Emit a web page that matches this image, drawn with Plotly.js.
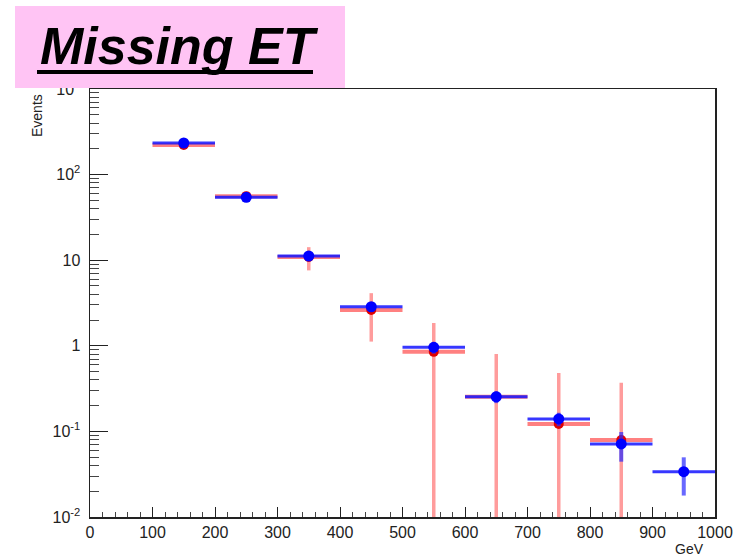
<!DOCTYPE html>
<html>
<head>
<meta charset="utf-8">
<script src="https://cdn.plot.ly/plotly-3.0.1.min.js"></script>
<style>html,body{margin:0;padding:0;background:#fff;}#chart{width:742px;height:559px;}</style>
</head>
<body>
<div id="chart"></div>
<script>
// bin centres (GeV) and half-width
var binCenters = [150, 250, 350, 450, 550, 650, 750, 850, 950];
var binHalfWidth = [50, 50, 50, 50, 50, 50, 50, 50, 50];

// red series
var redX = [150, 250, 350, 450, 550, 650, 750, 850];
var redY = [222, 56, 10.9, 2.62, 0.85, 0.254, 0.122, 0.0795];
var redErr = [5, 2, 3.3, 1.5, 1.0, 0.55, 0.36, 0.29];
var redHalf = [50, 50, 50, 50, 50, 50, 50, 50];

// blue series
var blueY = [234, 54.3, 11.2, 2.86, 0.96, 0.254, 0.140, 0.0713, 0.0338];
var blueErr = [3, 1.2, 0.6, 0.3, 0.15, 0.04, 0.025, 0.027, 0.016];

// axis ticks
var yTickVals = [0.01, 0.1, 1, 10, 100, 1000];
var yTickText = ['10<sup>-2</sup>', '10<sup>-1</sup>', '1', '10', '10<sup>2</sup>', '10<sup>3</sup>'];

var yMinor = [];
for (var e = -2; e < 3; e++) {
  for (var m = 2; m <= 9; m++) yMinor.push(m * Math.pow(10, e));
}

var W = 742, H = 559;
var M = {l: 90, r: 27, t: 89, b: 42};
var pw = W - M.l - M.r, ph = H - M.t - M.b;
function px(x) { return (x - M.l) / pw; }
function py(y) { return (H - M.b - y) / ph; }

var traces = [
  {
    x: redX, y: redY, type: 'scatter', mode: 'markers',
    marker: {color: '#e00000', size: 10},
    error_y: {type: 'data', array: redErr, visible: true, width: 0, thickness: 3.5, color: 'rgba(255,90,90,0.6)'},
    error_x: {type: 'data', array: redHalf, visible: true, width: 0, thickness: 4, color: 'rgba(255,60,60,0.65)'},
    hoverinfo: 'skip'
  },
  {
    x: binCenters, y: blueY, type: 'scatter', mode: 'markers',
    marker: {color: '#0000ff', size: 11},
    error_y: {type: 'data', array: blueErr, visible: true, width: 0, thickness: 4, color: 'rgba(40,40,255,0.7)'},
    error_x: {type: 'data', array: binHalfWidth, visible: true, width: 0, thickness: 3, color: 'rgba(20,20,255,0.85)'},
    hoverinfo: 'skip'
  }
];

var tickFont = {family: 'Liberation Sans, Arial, sans-serif', size: 16, color: '#222'};

var layout = {
  width: W, height: H,
  margin: M,
  paper_bgcolor: '#fff', plot_bgcolor: '#fff',
  showlegend: false,
  xaxis: {
    range: [0, 1000], dtick: 100, tick0: 0,
    ticks: 'inside', ticklen: 10, tickwidth: 1, tickcolor: '#222',
    minor: {ticks: 'inside', ticklen: 5, dtick: 20, tickcolor: '#444', tickwidth: 1},
    showline: true, linecolor: '#222', linewidth: 1.5, mirror: true,
    showgrid: false, zeroline: false,
    tickfont: tickFont
  },
  yaxis: {
    type: 'log', range: [-2, 3],
    tickmode: 'array', tickvals: yTickVals, ticktext: yTickText,
    ticks: 'inside', ticklen: 18, tickwidth: 1, tickcolor: '#222',
    minor: {ticks: 'inside', ticklen: 9, tickmode: 'array', tickvals: yMinor, tickcolor: '#444', tickwidth: 1},
    showline: true, linecolor: '#222', linewidth: 1.5, mirror: true,
    showgrid: false, zeroline: false,
    ticklabelstandoff: 5,
    tickfont: tickFont
  },
  shapes: [
    {type: 'rect', xref: 'paper', yref: 'paper', x0: px(15), x1: px(345), y0: py(6), y1: py(88),
     fillcolor: '#ffc4f4', line: {width: 0}, layer: 'above'},
    {type: 'line', xref: 'paper', yref: 'paper', x0: px(37), x1: px(313), y0: py(72), y1: py(72),
     line: {color: '#000', width: 4}, layer: 'above'}
  ],
  annotations: [
    {text: 'Missing ET', xref: 'paper', yref: 'paper', x: px(38), y: py(46), xanchor: 'left', yanchor: 'middle',
     showarrow: false, font: {family: 'Liberation Sans, Arial, sans-serif', size: 52, color: '#000', weight: 'bold', style: 'italic'}},
    {text: 'GeV', xref: 'paper', yref: 'paper', x: px(706), y: py(549), xanchor: 'right', yanchor: 'middle',
     showarrow: false, font: {family: 'Liberation Sans, Arial, sans-serif', size: 14, color: '#222'}},
    {text: 'Events', xref: 'paper', yref: 'paper', x: px(37), y: py(116), xanchor: 'center', yanchor: 'middle',
     textangle: -90, showarrow: false, font: {family: 'Liberation Sans, Arial, sans-serif', size: 14, color: '#222'}}
  ]
};

Plotly.newPlot('chart', traces, layout, {displayModeBar: false, staticPlot: true});
</script>
</body>
</html>
